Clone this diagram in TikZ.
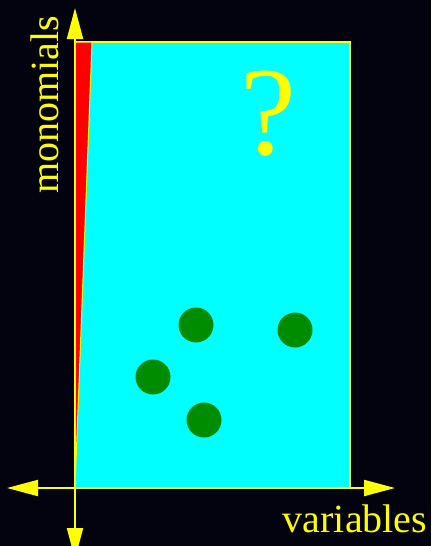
\documentclass[tikz,border=0pt]{standalone}
\usepackage{fontspec}
\setmainfont{Liberation Serif}
\usetikzlibrary{arrows.meta}
\definecolor{bgdark}{RGB}{3,3,15}
\definecolor{dotgreen}{RGB}{0,140,0}
\definecolor{fillcyan}{RGB}{0,255,255}
\definecolor{ylw}{RGB}{255,255,0}
\definecolor{rd}{RGB}{255,0,0}
\tikzset{
  axis/.style={draw=ylw, line width=2pt, -{Triangle[length=31pt,width=16pt]}},
  dotc/.style={circle, fill=dotgreen, minimum size=35pt, inner sep=0pt},
  lab/.style={text=ylw, font=\fontsize{40pt}{40pt}\selectfont, inner sep=0pt, anchor=base},
}
\begin{document}
\begin{tikzpicture}[x=1pt,y=-1pt]
\useasboundingbox (0,0) rectangle (431,546);
\clip (0,0) rectangle (431,546);
\fill[bgdark] (0,0) rectangle (431,546);
% region
\draw[ylw, line width=1.5pt, fill=fillcyan] (75,42) rectangle (350,488);
\draw[ylw, line width=1pt, fill=rd] (75,42) -- (92,42) -- (75,488) -- cycle;
% dots
\node[dotc] (d1) at (196,325) {};
\node[dotc] (d2) at (295,330) {};
\node[dotc] (d3) at (153,377) {};
\node[dotc] (d4) at (204,420) {};
% axes
\coordinate (o) at (75,488);
\coordinate (xl) at (7,488);
\coordinate (xr) at (395,488);
\coordinate (yt) at (75,8);
\coordinate (yb) at (75,559);
\draw[axis] (o) -- (xr);
\draw[axis] (o) -- (xl);
\draw[axis] (o) -- (yt);
\draw[axis] (o) -- (yb);
% labels
\node[lab] (vx) at (355,532) {variables};
\node[lab, rotate=90] (vy) at (58,105) {monomials};
\node[text=ylw, font=\fontsize{126pt}{126pt}\selectfont, inner sep=0pt, anchor=base] (q) at (268,154) {?};
\end{tikzpicture}
\end{document}
